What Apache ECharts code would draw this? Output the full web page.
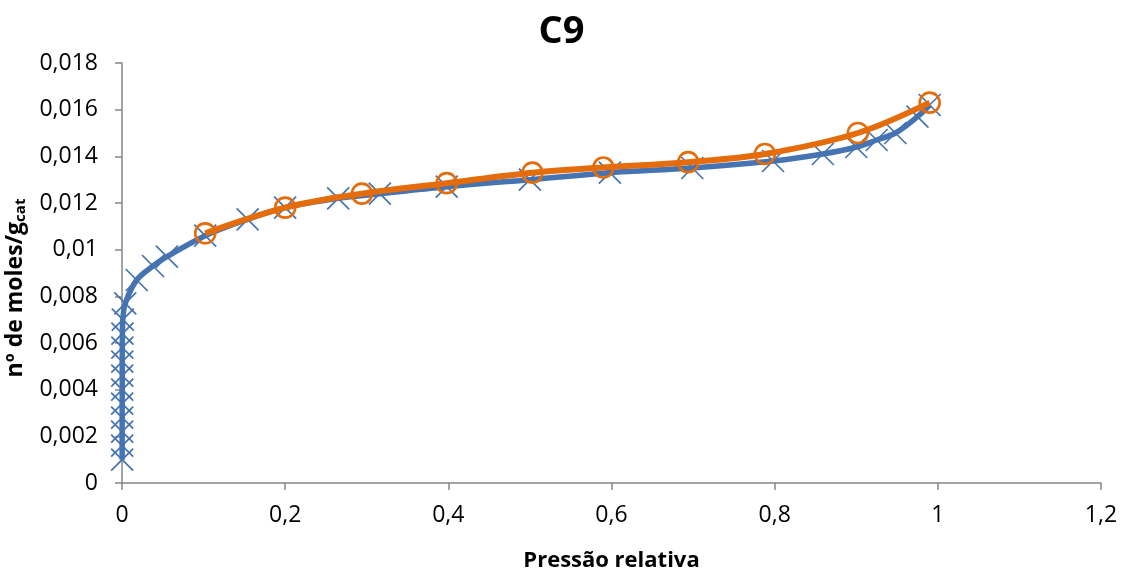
<!DOCTYPE html>
<html>
<head>
<meta charset="utf-8">
<script src="https://cdn.jsdelivr.net/npm/echarts@6/dist/echarts.min.js"></script>
<style>html,body{margin:0;padding:0;background:#fff}#c{width:1123px;height:574px}</style>
</head>
<body>
<div id="c"></div>
<script>
// Series 1 (blue, X markers)
var blueX = [0.0002, 0.0002, 0.0002, 0.0002, 0.0002, 0.0003, 0.0003, 0.0003, 0.0004, 0.0005, 0.0010, 0.0040, 0.018, 0.038, 0.055, 0.102, 0.154, 0.200, 0.265, 0.316, 0.398, 0.500, 0.598, 0.699, 0.798, 0.859, 0.900, 0.925, 0.948, 0.975, 0.990];
var blueY = [0.0010, 0.0016, 0.0022, 0.0028, 0.0034, 0.0040, 0.0046, 0.0052, 0.0058, 0.0064, 0.0070, 0.0077, 0.0087, 0.0093, 0.0097, 0.0106, 0.0113, 0.0118, 0.0122, 0.0124, 0.0127, 0.0130, 0.0133, 0.0135, 0.0138, 0.0141, 0.0144, 0.0147, 0.0150, 0.0157, 0.0162];
// Series 2 (orange, circle markers)
var orangeX = [0.102, 0.200, 0.294, 0.398, 0.503, 0.590, 0.694, 0.788, 0.902, 0.990];
var orangeY = [0.0107, 0.0118, 0.0124, 0.01285, 0.0133, 0.01352, 0.01375, 0.0141, 0.0150, 0.0163];
var xTicks = {min: 0, max: 1.2, interval: 0.2};
var yTicks = {min: 0, max: 0.018, interval: 0.002};
var titleText = 'C9';
var xName = 'Pressão relativa';

function pairs(xs, ys){ return xs.map(function(x,i){ return [x, ys[i]]; }); }
function fmt(v){ return String(+v.toFixed(4)).replace('.', ','); }

var FONT = '"Open Sans", "Noto Sans", sans-serif';
var BLUE = '#4673B1';
var ORANGE = '#E46C0A';
var chart = echarts.init(document.getElementById('c'));
chart.setOption({
  animation: false,
  backgroundColor: '#fff',
  title: {text: titleText, left: 'center', top: 8,
    textStyle: {fontFamily: FONT, fontSize: 38, fontWeight: 'bold', color: '#000'}},
  grid: {left: 122, right: 22, top: 63, bottom: 91, containLabel: false, outerBoundsMode: 'none'},
  xAxis: {type: 'value', min: xTicks.min, max: xTicks.max, interval: xTicks.interval,
    name: xName, nameLocation: 'middle', nameGap: 67,
    nameTextStyle: {fontFamily: FONT, fontSize: 22, fontWeight: 'bold', color: '#000'},
    axisLine: {lineStyle: {color: '#868686', width: 1.5}},
    axisTick: {show: true, length: 7, lineStyle: {color: '#868686', width: 1.5}},
    axisLabel: {fontFamily: FONT, fontSize: 23, color: '#000', margin: 21, formatter: fmt},
    splitLine: {show: false}},
  yAxis: {type: 'value', min: yTicks.min, max: yTicks.max, interval: yTicks.interval,
    name: '{a|nº de moles/g}{b|cat}', nameLocation: 'middle', nameGap: 87, nameRotate: 90,
    nameTextStyle: {padding: [0, 30, 0, 0], rich: {
      a: {fontFamily: FONT, fontSize: 23, fontWeight: 'bold', color: '#000', lineHeight: 28},
      b: {fontFamily: FONT, fontSize: 15, fontWeight: 'bold', color: '#000', lineHeight: 28, padding: [12, 0, 0, 0]}}},
    axisLine: {show: true, lineStyle: {color: '#868686', width: 1.5}},
    axisTick: {show: true, length: 7, lineStyle: {color: '#868686', width: 1.5}},
    axisLabel: {fontFamily: FONT, fontSize: 23, color: '#000', margin: 24, formatter: fmt},
    splitLine: {show: false}},
  series: [
    {type: 'line', data: pairs(blueX, blueY), smooth: 0.35,
     symbol: 'path://M0,0L10,10M10,0L0,10', symbolSize: 22,
     lineStyle: {color: BLUE, width: 5.5},
     itemStyle: {color: BLUE, borderColor: BLUE, borderWidth: 1.7},
     z: 2},
    {type: 'line', data: pairs(orangeX, orangeY), smooth: 0.35,
     symbol: 'circle', symbolSize: 20,
     lineStyle: {color: ORANGE, width: 6},
     itemStyle: {color: 'rgba(0,0,0,0)', borderColor: ORANGE, borderWidth: 2.6},
     z: 3}
  ]
});
</script>
</body>
</html>
